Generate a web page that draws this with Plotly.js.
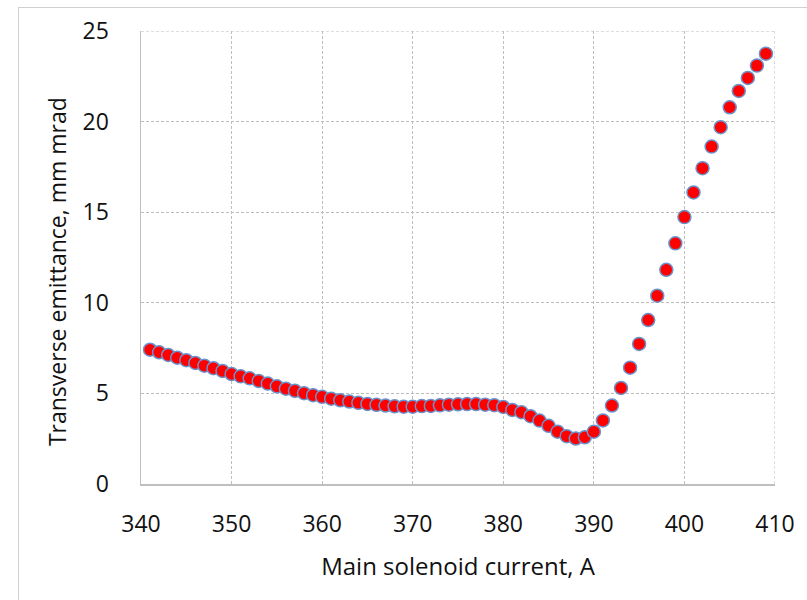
<!DOCTYPE html>
<html>
<head>
<meta charset="utf-8">
<script src="https://cdn.plot.ly/plotly-3.0.1.min.js"></script>
<style>
  html, body { margin: 0; padding: 0; background: #ffffff; }
  #wrap { position: relative; width: 807px; height: 600px; overflow: hidden; }
  #frame { position: absolute; left: 18px; top: 7px; width: 900px; height: 700px;
           border-left: 1px solid #d0d0d0; border-top: 1px solid #d0d0d0; }
  #chart { position: absolute; left: 0; top: 0; width: 807px; height: 600px; }
</style>
</head>
<body>
<div id="wrap">
  <div id="frame"></div>
  <div id="chart"></div>
</div>
<script>
const current = [341, 342, 343, 344, 345, 346, 347, 348, 349, 350,
                 351, 352, 353, 354, 355, 356, 357, 358, 359, 360,
                 361, 362, 363, 364, 365, 366, 367, 368, 369, 370,
                 371, 372, 373, 374, 375, 376, 377, 378, 379, 380,
                 381, 382, 383, 384, 385, 386, 387, 388, 389, 390,
                 391, 392, 393, 394, 395, 396, 397, 398, 399, 400,
                 401, 402, 403, 404, 405, 406, 407, 408, 409];
const emittance = [7.41, 7.27, 7.12, 6.97, 6.83, 6.68, 6.53, 6.39, 6.24, 6.07,
                   5.94, 5.83, 5.69, 5.54, 5.39, 5.26, 5.14, 5.01, 4.90, 4.81,
                   4.71, 4.62, 4.55, 4.48, 4.42, 4.37, 4.33, 4.29, 4.27, 4.27,
                   4.30, 4.31, 4.34, 4.38, 4.40, 4.41, 4.41, 4.38, 4.35, 4.25,
                   4.09, 3.96, 3.74, 3.50, 3.21, 2.89, 2.64, 2.51, 2.58, 2.89,
                   3.51, 4.33, 5.30, 6.42, 7.73, 9.05, 10.39, 11.82, 13.28, 14.73,
                   16.09, 17.43, 18.62, 19.69, 20.79, 21.69, 22.41, 23.09, 23.75];
const xTicks = [340, 350, 360, 370, 380, 390, 400, 410];
const yTicks = [0, 5, 10, 15, 20, 25];
const xTitle = "Main solenoid current, A";
const yTitle = "Transverse emittance, mm mrad";

const fontFam = "'Open Sans', 'Noto Sans', sans-serif";
const txtColor = '#111111';
const gridStyle = { color: '#bdbdbd', width: 1, dash: '3px,2px' };

const trace = {
  x: current,
  y: emittance,
  type: 'scatter',
  mode: 'markers',
  marker: { color: '#ff0000', size: 13, line: { color: '#6a92cc', width: 1.5 } },
  hoverinfo: 'x+y'
};

const layout = {
  width: 807,
  height: 600,
  margin: { l: 141, r: 32, t: 31, b: 116 },
  paper_bgcolor: 'rgba(0,0,0,0)',
  plot_bgcolor: '#ffffff',
  showlegend: false,
  font: { family: fontFam, size: 23, color: txtColor },
  xaxis: {
    range: [340, 410],
    tickvals: xTicks,
    ticktext: xTicks.map(String),
    showgrid: true,
    gridcolor: gridStyle.color,
    griddash: gridStyle.dash,
    gridwidth: gridStyle.width,
    zeroline: false,
    showline: true,
    linecolor: '#bfbfbf',
    linewidth: 1.5,
    ticks: '',
    ticklabelstandoff: 19,
    tickfont: { family: fontFam, size: 23, color: txtColor },
    title: { text: xTitle, font: { family: fontFam, size: 24, color: txtColor }, standoff: 20 }
  },
  yaxis: {
    range: [0, 25],
    tickvals: yTicks,
    ticktext: yTicks.map(String),
    showgrid: true,
    gridcolor: gridStyle.color,
    griddash: gridStyle.dash,
    gridwidth: gridStyle.width,
    zeroline: false,
    showline: true,
    linecolor: '#bfbfbf',
    linewidth: 1.5,
    ticks: '',
    ticklabelstandoff: 26,
    tickfont: { family: fontFam, size: 23, color: txtColor }
  },
  annotations: [
    { text: yTitle, xref: 'paper', yref: 'paper', x: -0.1325, y: 0.47,
      xanchor: 'center', yanchor: 'middle', textangle: -90, showarrow: false,
      font: { family: fontFam, size: 23, color: txtColor } }
  ],
  shapes: [
    { type: 'line', xref: 'x', yref: 'y', x0: 410, x1: 410, y0: 0, y1: 25,
      line: gridStyle, layer: 'below' },
    { type: 'line', xref: 'x', yref: 'y', x0: 340, x1: 410, y0: 25, y1: 25,
      line: gridStyle, layer: 'below' }
  ]
};

Plotly.newPlot('chart', [trace], layout, { displayModeBar: false, staticPlot: true });
</script>
</body>
</html>
